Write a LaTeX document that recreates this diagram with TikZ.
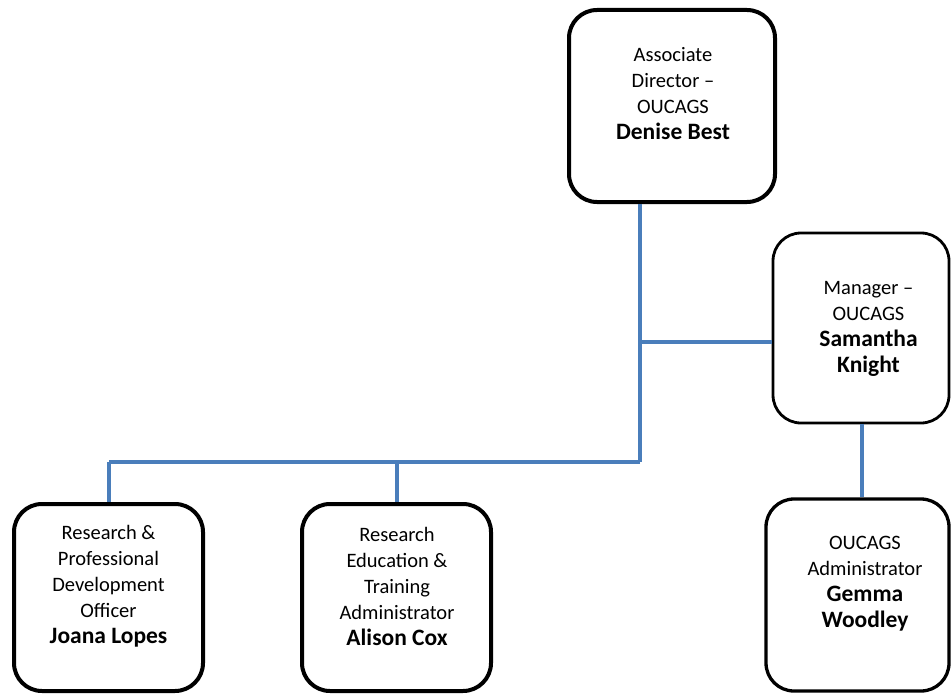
\documentclass[tikz,border=0pt]{standalone}
\usepackage{fontspec}
\setmainfont{Carlito}
\definecolor{linkblue}{RGB}{74,126,187}
\newcommand{\pname}[1]{{\fontsize{23.5}{26}\selectfont\bfseries #1}}
\begin{document}
\begin{tikzpicture}[x=1pt,y=-1pt,
  box/.style={draw=black,rounded corners=28pt,rectangle,inner sep=0pt,fill=white},
  txt/.style={align=center,inner sep=0pt,font=\fontsize{20.5}{26}\selectfont},
  link/.style={draw=linkblue,line width=3.5pt}]
\useasboundingbox (0,0) rectangle (952,695);
\fill[white] (0,0) rectangle (952,695);
% boxes
\node[box,line width=4pt,minimum width=206pt,minimum height=192pt] (denise) at (672,106) {};
\node[box,line width=2.8pt,minimum width=176pt,minimum height=190pt] (samantha) at (861,328) {};
\node[box,line width=4pt,minimum width=189pt,minimum height=187pt] (joana) at (108.5,597.5) {};
\node[box,line width=4pt,minimum width=189pt,minimum height=187pt] (alison) at (396.5,597.5) {};
\node[box,line width=3.3pt,minimum width=183pt,minimum height=192pt] (gemma) at (857.5,595) {};
% texts
\node[txt] (tdenise) at (673,94) {Associate\\Director --\\OUCAGS\\\pname{Denise Best}};
\node[txt] (tsamantha) at (868.5,329) {Manager --\\OUCAGS\\\pname{Samantha}\\\pname{Knight}};
\node[txt] (tjoana) at (108.5,586) {Research \&\\Professional\\Development\\Officer\\\pname{Joana Lopes}};
\node[txt] (talison) at (397,586) {Research\\Education \&\\Training\\Administrator\\\pname{Alison Cox}};
\node[txt] (tgemma) at (865,583.5) {OUCAGS\\Administrator\\\pname{Gemma}\\\pname{Woodley}};
% connectors
\coordinate (j1) at (640,342);
\coordinate (j2) at (640,462);
\coordinate (j3) at (109,462);
\coordinate (j4) at (397,462);
\draw[link] (denise.south -| j1) -- (j2);
\draw[link] (j1) -- (j1 -| samantha.west);
\draw[link] (j2) -- (j3);
\draw[link] (j3) -- (j3 |- joana.north);
\draw[link] (j4) -- (j4 |- alison.north);
\coordinate (j5) at (862,424);
\draw[link] (samantha.south -| j5) -- (j5 |- gemma.north);
\end{tikzpicture}
\end{document}
